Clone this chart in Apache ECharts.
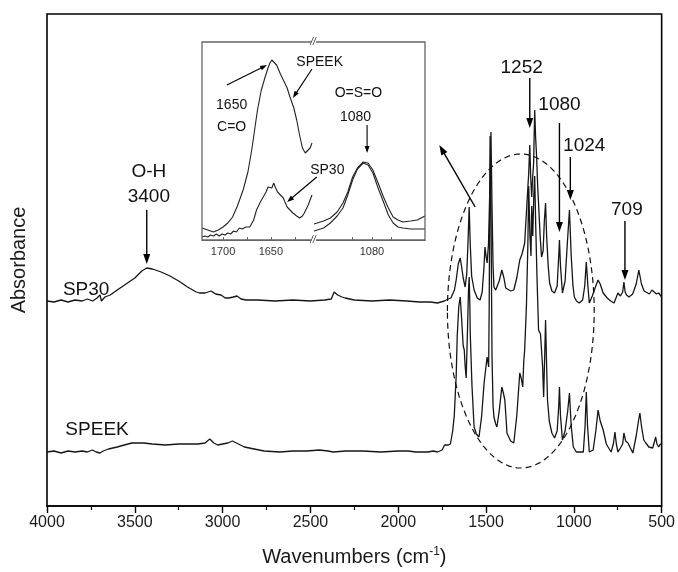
<!DOCTYPE html>
<html><head><meta charset="utf-8">
<script src="https://cdn.jsdelivr.net/npm/echarts@6/dist/echarts.min.js"></script>
<style>html,body{margin:0;padding:0;background:#fff}#c{width:678px;height:572px}</style>
</head><body><div id="c"></div>
<script>
// ---- data (wavenumber cm-1, absorbance in arbitrary units) ----
const sp30 = [
[4000,205],[3960,204],[3920,206],[3880,204],[3840,206],[3800,205],[3770,207],[3740,205],[3715,208],[3698,211],[3690,205],[3670,209],[3640,211],[3600,216],[3550,222],[3500,228],[3460,235],[3432,238],[3400,237],[3350,234],[3300,230],[3250,225],[3200,219],[3150,214],[3133,213],[3100,213],[3065,215],[3040,212],[3009,211],[2985,208],[2963,208],[2940,209],[2918,210],[2895,207],[2867,206],[2800,206],[2700,205],[2600,206],[2500,205],[2420,206],[2381,207],[2365,214],[2359,213],[2345,211],[2320,209],[2302,208],[2250,206],[2150,205],[2050,206],[1950,205],[1880,204],[1816,204],[1777,203],[1737,205],[1715,207],[1700,208],[1692,210],[1680,216],[1670,226],[1658,242],[1647,248],[1638,238],[1630,228],[1619,219],[1610,232],[1603,262],[1596,299],[1590,262],[1582,230],[1568,216],[1550,208],[1534,206],[1522,214],[1512,238],[1506,259],[1500,250],[1494,243],[1486,262],[1478,320],[1472,374],[1466,300],[1460,240],[1455,219],[1445,216],[1438,216],[1425,225],[1410,236],[1398,228],[1388,218],[1381,216],[1360,215],[1342,216],[1325,228],[1308,246],[1295,252],[1280,263],[1268,300],[1257,333],[1251,361],[1246,330],[1240,309],[1234,330],[1229,343],[1223,396],[1218,370],[1212,349],[1206,320],[1201,303],[1192,270],[1184,249],[1175,255],[1168,285],[1161,303],[1155,270],[1146,240],[1138,223],[1125,215],[1110,213],[1095,220],[1086,250],[1082,266],[1076,240],[1065,213],[1050,225],[1038,260],[1025,296],[1015,250],[1005,220],[997,209],[985,205],[969,203],[950,206],[938,220],[929,244],[920,220],[912,203],[895,210],[875,220],[862,226],[850,222],[833,213],[810,208],[790,205],[771,203],[760,208],[749,213],[735,210],[722,214],[715,224],[708,214],[700,211],[686,209],[665,212],[645,222],[630,236],[615,222],[600,215],[590,213],[570,212],[555,216],[545,216],[530,212],[517,213],[508,211],[500,209]
];
const speek = [
[4000,54],[3960,55],[3920,53],[3880,55],[3840,54],[3800,55],[3770,54],[3742,56],[3720,54],[3698,53],[3680,55],[3650,57],[3600,59],[3560,61],[3517,63],[3450,63],[3400,62],[3326,61],[3250,62],[3180,62],[3140,62],[3100,63],[3073,67],[3050,63],[3028,61],[3000,62],[2970,63],[2944,65],[2910,62],[2876,59],[2820,57],[2764,55],[2674,54],[2600,55],[2520,55],[2449,56],[2400,55],[2371,54],[2300,55],[2200,55],[2100,54],[2000,55],[1944,55],[1900,54],[1831,54],[1800,55],[1777,54],[1750,56],[1736,61],[1730,59],[1715,61],[1703,62],[1690,75],[1681,90],[1670,130],[1664,170],[1655,200],[1647,209],[1640,190],[1630,160],[1624,156],[1619,140],[1613,128],[1605,180],[1600,215],[1596,229],[1592,200],[1590,173],[1580,120],[1568,79],[1555,72],[1540,69],[1525,90],[1511,123],[1500,140],[1494,149],[1485,139],[1482,200],[1477,370],[1472,300],[1466,150],[1460,100],[1455,89],[1445,82],[1438,79],[1425,95],[1410,119],[1400,112],[1393,106],[1385,85],[1381,73],[1360,65],[1342,63],[1325,90],[1308,133],[1300,128],[1291,119],[1285,145],[1280,156],[1270,200],[1262,260],[1257,320],[1250,270],[1244,250],[1240,300],[1234,270],[1228,310],[1223,330],[1217,280],[1210,230],[1201,176],[1190,172],[1184,173],[1178,140],[1172,109],[1166,150],[1161,186],[1155,140],[1150,106],[1140,85],[1125,73],[1110,68],[1095,75],[1086,100],[1082,119],[1076,90],[1065,66],[1050,75],[1035,95],[1025,113],[1015,80],[1003,59],[986,54],[966,54],[946,54],[936,80],[929,114],[922,80],[912,54],[890,56],[875,75],[862,96],[850,85],[833,76],[815,62],[805,59],[788,54],[775,62],[766,74],[758,62],[749,54],[735,58],[722,62],[715,73],[705,65],[692,63],[678,58],[664,53],[645,70],[632,85],[624,93],[615,80],[602,66],[590,63],[573,59],[562,58],[551,58],[540,65],[534,69],[527,62],[517,59],[508,62],[500,61]
];
// inset (left segment: C=O region, right segment: O=S=O region)
const insetSpeekL = [[1722,12],[1716,10],[1710,8],[1705,10],[1700,13],[1695,17],[1690,23],[1685,34],[1679,50],[1674,68],[1670,90],[1667,110],[1664,130],[1660,150],[1656,163],[1653,172],[1651,177],[1649,180],[1647,180],[1644,175],[1640,166],[1637,160],[1633,152],[1630,143],[1626,132],[1623,120],[1620,105],[1617,92],[1614,87],[1612,87],[1609,92],[1607,97]];
const insetSp30L = [[1722,3],[1719,4],[1716,3],[1713,5],[1710,4],[1707,6],[1704,4],[1701,6],[1698,5],[1695,7],[1692,6],[1689,9],[1686,8],[1683,12],[1680,11],[1676,13],[1672,13],[1668,20],[1665,30],[1661,38],[1658,43],[1655,48],[1653,53],[1651,51],[1649,52],[1647,57],[1645,52],[1643,48],[1640,45],[1637,42],[1633,33],[1630,30],[1627,27],[1623,24],[1620,22],[1617,24],[1615,27],[1611,35],[1607,45]];
const insetSp30R = [[1140,16],[1130,19],[1123,22],[1116,28],[1110,37],[1105,48],[1100,63],[1095,72],[1089,78],[1084,77],[1079,70],[1074,58],[1068,43],[1063,32],[1058,23],[1053,20],[1048,18],[1040,19],[1033,20],[1025,24]];
const insetSpeekR = [[1140,9],[1130,12],[1123,17],[1116,24],[1110,32],[1105,45],[1100,60],[1095,71],[1089,77],[1084,75],[1079,67],[1074,53],[1068,38],[1063,25],[1058,17],[1053,13],[1048,12],[1040,11],[1033,11],[1025,11]];
const insetTicksL = [1700,1650];
const insetTicksR = [1080];

// ---- annotations (data coordinates of the main plot) ----
const mainTexts = [
  {t:'O-H', w:3420, v:334}, {t:'3400', w:3420, v:309},
  {t:'SP30', w:3777, v:216}, {t:'SPEEK', w:3715, v:76},
  {t:'1252', w:1297, v:438}, {t:'1080', w:1082, v:401},
  {t:'1024', w:941, v:360}, {t:'709', w:698, v:296}
];
const mainArrows = [
  {a:[3432,296], b:[3432,242]},
  {a:[1251,428], b:[1251,378]},
  {a:[1082,383], b:[1082,274]},
  {a:[1020,349], b:[1020,306]},
  {a:[709,285], b:[709,226]},
  {a:[1562,299], b:[1766,361]}
];
const ellipse = {w:1302, v:195, rw:418, rv:157};
// inset annotations: left-segment coordinates (L) or right-segment (R)
const insetTexts = [
  {t:'SPEEK', g:'L', w:1599, v:178}, {t:'1650', g:'L', w:1691, v:135}, {t:'C=O', g:'L', w:1691, v:113},
  {t:'SP30', g:'L', w:1591, v:70}, {t:'O=S=O', g:'R', w:1094, v:147}, {t:'1080', g:'R', w:1097, v:123}
];
const insetArrows = [
  {g:'L', a:[1607,171], b:[1627,142]},
  {g:'L', a:[1696,155], b:[1654,175]},
  {g:'L', a:[1602,63], b:[1633,38]},
  {g:'R', a:[1085,115], b:[1085,87]}
];

const FONT = 'Liberation Sans, Arial, Helvetica, sans-serif';
const plain = v => String(v);
const chart = echarts.init(document.getElementById('c'));
const lineCol = '#161616';
chart.setOption({
  animation:false,
  backgroundColor:'#fff',
  grid:[
    {left:47, right:12, top:14, bottom:66, show:true, borderColor:'#000', borderWidth:1.6, backgroundColor:'transparent'},
    {left:202, width:110, top:42, height:198},
    {left:314, width:111, top:42, height:198}
  ],
  xAxis:[
    {gridIndex:0, type:'value', min:500, max:4000, interval:500, inverse:true,
     axisLine:{lineStyle:{color:'#000', width:1.6}},
     axisTick:{length:7, lineStyle:{color:'#000', width:1.4}},
     minorTick:{show:true, splitNumber:2, length:4, lineStyle:{color:'#000', width:1.2}},
     axisLabel:{fontSize:16, color:'#1a1a1a', fontFamily:FONT, margin:9, showMinLabel:true, showMaxLabel:true, formatter:plain},
     splitLine:{show:false},
     name:'{a|Wavenumbers (cm}{b|-1}{a|)}', nameLocation:'middle', nameGap:40,
     nameTextStyle:{rich:{a:{fontSize:20, color:'#1a1a1a', fontFamily:FONT}, b:{fontSize:12, color:'#1a1a1a', fontFamily:FONT, padding:[0,0,10,0]}}}
    },
    {gridIndex:1, type:'value', min:1607, max:1722, inverse:true,
     axisLine:{lineStyle:{color:'#666', width:1.2}},
     axisTick:{inside:true, length:3, customValues:[1700,1675,1650,1625], lineStyle:{color:'#666'}},
     axisLabel:{customValues:insetTicksL, fontSize:11, color:'#333', fontFamily:FONT, margin:6, formatter:plain},
     splitLine:{show:false}},
    {gridIndex:2, type:'value', min:1025, max:1140, inverse:true,
     axisLine:{lineStyle:{color:'#666', width:1.2}},
     axisTick:{inside:true, length:3, customValues:[1100,1080,1060], lineStyle:{color:'#666'}},
     axisLabel:{customValues:insetTicksR, fontSize:11, color:'#333', fontFamily:FONT, margin:6, formatter:plain},
     splitLine:{show:false}}
  ],
  yAxis:[
    {gridIndex:0, type:'value', min:0, max:492, axisLine:{show:false}, axisTick:{show:false}, axisLabel:{show:false}, splitLine:{show:false},
     name:'Absorbance', nameLocation:'middle', nameGap:18, nameTextStyle:{fontSize:20, color:'#1a1a1a', fontFamily:FONT}},
    {gridIndex:1, type:'value', min:0, max:198, show:false},
    {gridIndex:2, type:'value', min:0, max:198, show:false}
  ],
  series:[
    {name:'SP30', type:'line', xAxisIndex:0, yAxisIndex:0, data:sp30, showSymbol:false, symbol:'none', lineStyle:{color:lineCol, width:1.3}},
    {name:'SPEEK', type:'line', xAxisIndex:0, yAxisIndex:0, data:speek, showSymbol:false, symbol:'none', lineStyle:{color:lineCol, width:1.3}},
    {name:'SPEEK inset L', type:'line', xAxisIndex:1, yAxisIndex:1, data:insetSpeekL, symbol:'none', lineStyle:{color:'#222', width:1.1}},
    {name:'SP30 inset L', type:'line', xAxisIndex:1, yAxisIndex:1, data:insetSp30L, symbol:'none', lineStyle:{color:'#222', width:1.1}},
    {name:'SP30 inset R', type:'line', xAxisIndex:2, yAxisIndex:2, data:insetSp30R, symbol:'none', lineStyle:{color:'#222', width:1.1}},
    {name:'SPEEK inset R', type:'line', xAxisIndex:2, yAxisIndex:2, data:insetSpeekR, symbol:'none', lineStyle:{color:'#222', width:1.1}}
  ]
});

function px(g, p){
  const idx = g==='L'?1:(g==='R'?2:0);
  return chart.convertToPixel({xAxisIndex:idx, yAxisIndex:idx}, p);
}
function arrow(p1, p2, len, wid, lw){
  const dx=p2[0]-p1[0], dy=p2[1]-p1[1], L=Math.hypot(dx,dy), ux=dx/L, uy=dy/L;
  const bx=p2[0]-ux*len, by=p2[1]-uy*len;
  return [
    {type:'line', shape:{x1:p1[0], y1:p1[1], x2:bx+ux*2, y2:by+uy*2}, style:{stroke:'#000', lineWidth:lw}, z:100},
    {type:'polygon', shape:{points:[[p2[0],p2[1]],[bx-uy*wid/2,by+ux*wid/2],[bx+uy*wid/2,by-ux*wid/2]]}, style:{fill:'#000'}, z:100}
  ];
}
const g = [];
// inset frame
const tl = px('L',[1722,198]), br = px('R',[1025,0]);
g.push({type:'rect', shape:{x:tl[0], y:tl[1], width:br[0]-tl[0], height:br[1]-tl[1]}, style:{fill:'rgba(255,255,255,0)', stroke:'#666', lineWidth:1.3}, z:90});
const brk = px('L',[1606,198]), brkB = px('L',[1606,0]);
[brk, brkB].forEach(p=>{
  g.push({type:'rect', shape:{x:p[0]-2, y:p[1]-3, width:5, height:6}, style:{fill:'#fff'}, z:95});
  g.push({type:'text', x:p[0], y:p[1], style:{text:'//', fontSize:10, fontStyle:'italic', fontFamily:FONT, fill:'#333', align:'center', verticalAlign:'middle'}, z:96});
});
mainTexts.forEach(o=>{
  const p = px('M',[o.w,o.v]);
  g.push({type:'text', x:p[0], y:p[1], style:{text:o.t, fontSize:19, fontFamily:FONT, fill:'#111', align:'center', verticalAlign:'middle'}, z:100});
});
mainArrows.forEach(o=>{ g.push(...arrow(px('M',o.a), px('M',o.b), 10, 7, 1.4)); });
insetTexts.forEach(o=>{
  const p = px(o.g,[o.w,o.v]);
  g.push({type:'text', x:p[0], y:p[1], style:{text:o.t, fontSize:14, fontFamily:FONT, fill:'#111', align:'center', verticalAlign:'middle'}, z:100});
});
insetArrows.forEach(o=>{ g.push(...arrow(px(o.g,o.a), px(o.g,o.b), 7, 5, 1.1)); });
// dashed ellipse around the fingerprint region
const pts=[];
for(let i=0;i<=120;i++){
  const t=i/120*Math.PI*2;
  pts.push(px('M',[ellipse.w+ellipse.rw*Math.cos(t), ellipse.v+ellipse.rv*Math.sin(t)]));
}
g.push({type:'polyline', shape:{points:pts}, style:{stroke:'#111', lineWidth:1.2, lineDash:[6,4], fill:null}, z:99});
chart.setOption({graphic:g});
</script></body></html>
